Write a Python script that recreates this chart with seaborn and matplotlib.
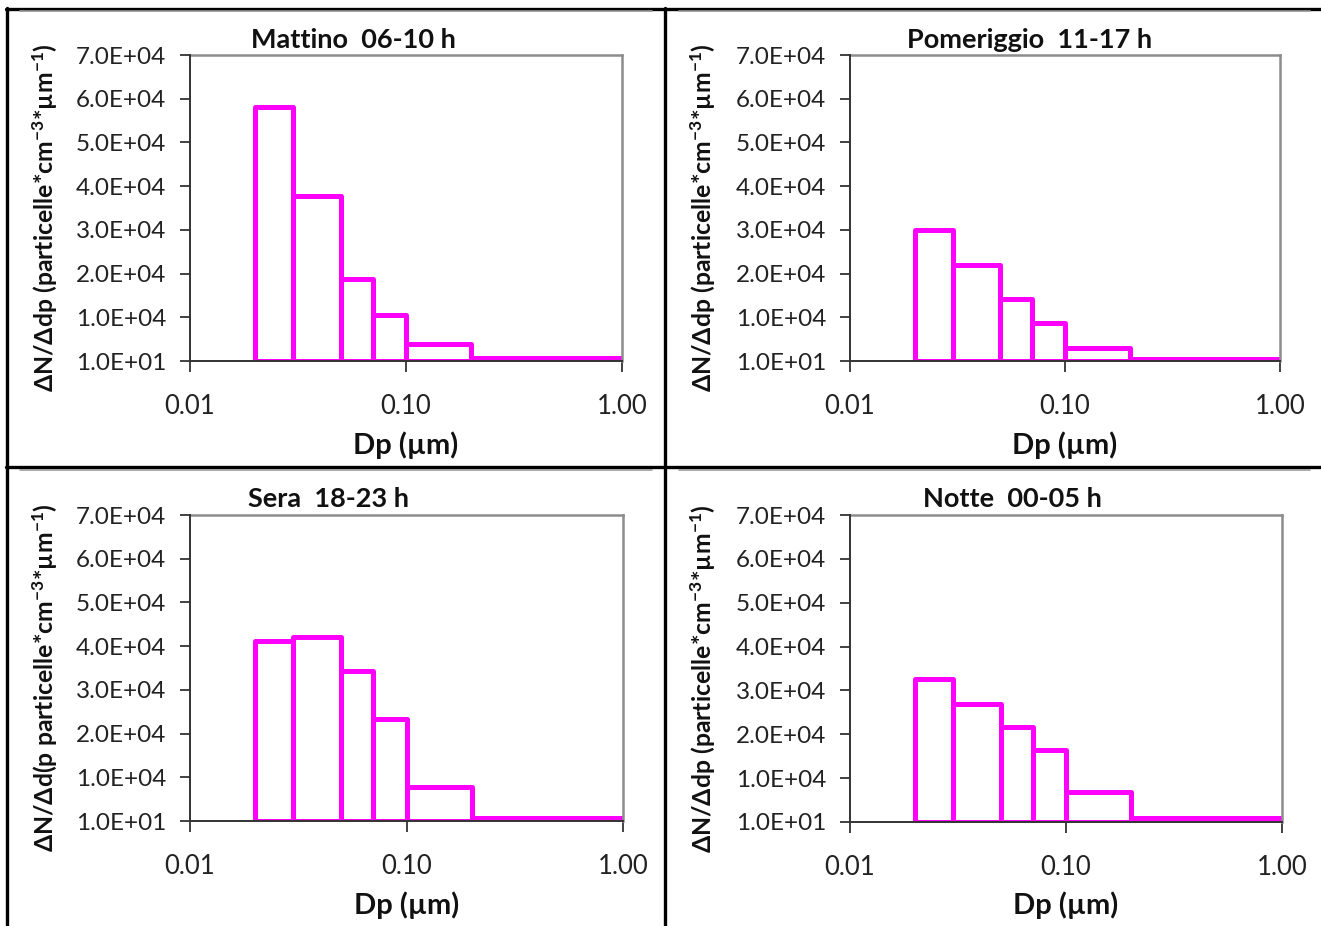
import numpy as np
import pandas as pd
import matplotlib
matplotlib.use("Agg")
import matplotlib.pyplot as plt
from matplotlib.lines import Line2D
import seaborn as sns

# ---------------- data ----------------
bin_edges = [0.02, 0.03, 0.05, 0.07, 0.10, 0.20, 1.00]
mattino = [58000, 37800, 18800, 10600, 3900, 700]
pomeriggio = [30000, 22000, 14200, 8700, 3000, 500]
sera = [41200, 42100, 34300, 23300, 7800, 700]
notte = [32500, 26800, 21700, 16500, 6900, 1000]

titles = ["Mattino  06-10 h", "Pomeriggio  11-17 h", "Sera  18-23 h", "Notte  00-05 h"]
ylabels = [
    r"ΔN/Δdp (particelle*cm$^{-3}$*µm$^{-1}$)",
    r"ΔN/Δdp (particelle*cm$^{-3}$*µm$^{-1}$)",
    r"ΔN/Δd(p particelle*cm$^{-3}$*µm$^{-1}$)",
    r"ΔN/Δdp (particelle*cm$^{-3}$*µm$^{-1}$)",
]
xlabel = "Dp (µm)"
y_ticks = [10, 10000, 20000, 30000, 40000, 50000, 60000, 70000]
y_ticklabels = ["1.0E+01", "1.0E+04", "2.0E+04", "3.0E+04", "4.0E+04", "5.0E+04", "6.0E+04", "7.0E+04"]
x_ticks = [0.01, 0.1, 1.0]
x_ticklabels = ["0.01", "0.10", "1.00"]

series = [mattino, pomeriggio, sera, notte]

# ---------------- style ----------------
sns.set_theme(style="white")
plt.rcParams["font.family"] = ["Lato", "DejaVu Sans"]
plt.rcParams["mathtext.fontset"] = "custom"
plt.rcParams["mathtext.rm"] = "Lato"
plt.rcParams["mathtext.bf"] = "Lato:bold"
plt.rcParams["mathtext.default"] = "regular"

W, H = 1321, 926
fig = plt.figure(figsize=(W / 100, H / 100), dpi=100)
fig.patch.set_facecolor("white")

# axes boxes in pixels: left, top, right, bottom
boxes = [
    (190, 55, 622, 361),
    (850, 55, 1280, 361),
    (190, 515, 623, 821),
    (850, 515, 1282, 822),
]
title_pos = [(353, 40), (1030, 40), (329, 499), (1012, 499)]
ylabel_x = [45, 703, 45, 703]

edges_arr = np.array(bin_edges)
centers = np.sqrt(edges_arr[:-1] * edges_arr[1:])
log_bins = list(np.log10(edges_arr))

for i, (vals, box) in enumerate(zip(series, boxes)):
    l, t, r, b = box
    ax = fig.add_axes([l / W, 1 - b / H, (r - l) / W, (b - t) / H])
    ax.set_xscale("log")
    df = pd.DataFrame({"dp": centers, "n": vals})
    sns.histplot(data=df, x="dp", weights="n", bins=log_bins,
                 fill=False, element="bars", color="#FF00FF", linewidth=3.6,
                 ax=ax, zorder=2)
    for p in ax.patches:
        p.set_joinstyle("round")
        p.set_capstyle("round")
    ax.set_xlim(0.01, 1.0)
    ax.set_ylim(10, 70000)
    ax.set_xticks(x_ticks)
    ax.set_xticklabels(x_ticklabels)
    ax.xaxis.set_minor_locator(matplotlib.ticker.NullLocator())
    ax.set_yticks(y_ticks)
    ax.set_yticklabels(y_ticklabels)
    ax.tick_params(axis="x", which="major", direction="out", length=8, width=1.3,
                   color="#333333", pad=16, labelsize=18.5, labelcolor="#222222", bottom=True)
    ax.tick_params(axis="y", which="major", direction="out", length=7, width=1.3,
                   color="#333333", pad=10, labelsize=17.5, labelcolor="#222222", left=True)
    for s in ["left", "bottom"]:
        ax.spines[s].set_color("#333333")
        ax.spines[s].set_linewidth(1.4)
        ax.spines[s].set_zorder(3)
    for s in ["top", "right"]:
        ax.spines[s].set_color("#8c8c8c")
        ax.spines[s].set_linewidth(1.8)
    ax.set_xlabel("")
    ax.set_ylabel("")
    ax.grid(False)
    ax.set_facecolor("white")

    cx = (l + r) / 2
    fig.text(cx / W, 1 - 445 / H if i < 2 else 1 - 905 / H, xlabel, ha="center", va="center",
             fontsize=21, fontweight="bold", color="#111111")
    tx, ty = title_pos[i]
    fig.text(tx / W, 1 - ty / H, titles[i], ha="center", va="center",
             fontsize=19.5, fontweight="bold", color="#111111")
    fig.text(ylabel_x[i] / W, 1 - ((t + b) / 2 + 10) / H, ylabels[i], rotation=90,
             ha="center", va="center", fontsize=17.8, fontweight="bold", color="#111111")

# table borders
def hline(y, x0, x1, color="black", lw=2.4):
    fig.add_artist(Line2D([x0 / W, x1 / W], [1 - y / H, 1 - y / H], color=color, lw=lw))

def vline(x, y0, y1, color="black", lw=2.4):
    fig.add_artist(Line2D([x / W, x / W], [1 - y0 / H, 1 - y1 / H], color=color, lw=lw))

hline(8.5, 6, W)
hline(467, 6, W)
hline(11, 20, 652, color="#9a9a9a", lw=1.2)
hline(11, 679, 1310, color="#9a9a9a", lw=1.2)
hline(470, 20, 652, color="#9a9a9a", lw=1.2)
hline(470, 679, 1310, color="#9a9a9a", lw=1.2)
vline(7, 7.5, H)
vline(665, 7.5, H)

fig.savefig("out.png", dpi=100, facecolor="white")
